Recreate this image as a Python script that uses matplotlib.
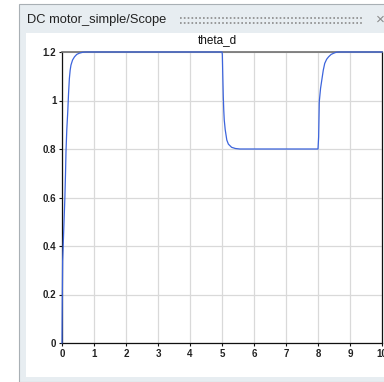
import matplotlib
matplotlib.use("Agg")
import matplotlib.pyplot as plt
from matplotlib.patches import Rectangle
from matplotlib.lines import Line2D

plt.rcParams['font.family'] = ['Liberation Sans', 'DejaVu Sans']

window_title = "DC motor_simple/Scope"
signal_name = "theta_d"
time = [0, 0.01, 0.02, 0.05, 0.09, 0.11, 0.125, 0.15, 0.18, 0.205, 0.23, 0.255,
        0.28, 0.33, 0.39, 0.46, 0.54, 0.65, 0.75,
        5.0, 5.01, 5.025, 5.04, 5.055, 5.07, 5.1, 5.15, 5.2, 5.3, 5.42, 5.56,
        8.0, 8.02, 8.04, 8.08, 8.125, 8.165, 8.21, 8.27, 8.33, 8.41, 8.49, 8.57, 8.65,
        10.0]
theta_d = [0, 0.2, 0.34, 0.45, 0.6, 0.7, 0.79, 0.88, 0.954, 1.03, 1.09, 1.125,
           1.146, 1.167, 1.18, 1.19, 1.195, 1.199, 1.2,
           1.2, 1.19, 1.1, 1.016, 0.96, 0.92, 0.88, 0.837, 0.82, 0.807, 0.802, 0.8,
           0.8, 0.85, 0.995, 1.05, 1.09, 1.125, 1.153, 1.17, 1.18, 1.19, 1.195, 1.199, 1.2,
           1.2]
xticks = [0, 1, 2, 3, 4, 5, 6, 7, 8, 9, 10]
yticks = [0, 0.2, 0.4, 0.6, 0.8, 1.0, 1.2]
ytick_labels = ["0", "0.2", "0.4", "0.6", "0.8", "1", "1.2"]

W, H = 384, 382
fig = plt.figure(figsize=(W / 100, H / 100), dpi=100)
fig.patch.set_facecolor('white')

def fx(px):
    return px / W

def fy(py):
    return 1 - py / H

# window panel
fig.patches.append(Rectangle((fx(18.5), 0), 1.2, fy(3.5), transform=fig.transFigure,
                             facecolor='#e7edf1', edgecolor='#a9b0b5', linewidth=0.8, zorder=0))
# white plot area
fig.patches.append(Rectangle((fx(26), fy(377)), 1.2, fy(33) - fy(377), transform=fig.transFigure,
                             facecolor='white', edgecolor='none', zorder=0.5))
fig.text(fx(27), fy(20), window_title, fontsize=9.3, color='#222222',
         ha='left', va='center')
for yy in (18.0, 23.0):
    fig.add_artist(Line2D([fx(180), fx(362)], [fy(yy), fy(yy)], transform=fig.transFigure,
                          color='#8a8a8a', linewidth=1.2, linestyle=(0, (1.0, 1.3))))
fig.text(fx(376), fy(20), "\u00d7", fontsize=11, color='#8a8a8a', ha='left', va='center')

ax = fig.add_axes([fx(62), fy(343), fx(382) - fx(62), fy(52) - fy(343)])
ax.set_zorder(3)
ax.set_facecolor('white')
ax.plot(time, theta_d, color='#3c64dc', linewidth=0.9, clip_on=False, zorder=5)
ax.set_xlim(0, 10)
ax.set_ylim(0, 1.2)
ax.set_xticks(xticks)
ax.set_xticklabels([str(v) for v in xticks])
ax.set_yticks(yticks)
ax.set_yticklabels(ytick_labels)
ax.grid(True, color='#d9d9d9', linewidth=0.9)
ax.set_axisbelow(True)
for side in ('left', 'bottom', 'right'):
    ax.spines[side].set_color('#111111')
    ax.spines[side].set_linewidth(0.9)
ax.spines['top'].set_color('#707070')
ax.spines['top'].set_linewidth(1.2)
ax.tick_params(direction='out', length=2.5, width=0.8, color='#111111',
               labelsize=7, labelcolor='#222222', pad=1.5)
for lab in ax.get_xticklabels() + ax.get_yticklabels():
    lab.set_fontweight('bold')
ax.text((217 - 62) / 320, 1 + 12 / 291, signal_name, transform=ax.transAxes,
        ha='center', va='center', fontsize=8.5, color='#111111')

fig.savefig('out.png', dpi=100)
